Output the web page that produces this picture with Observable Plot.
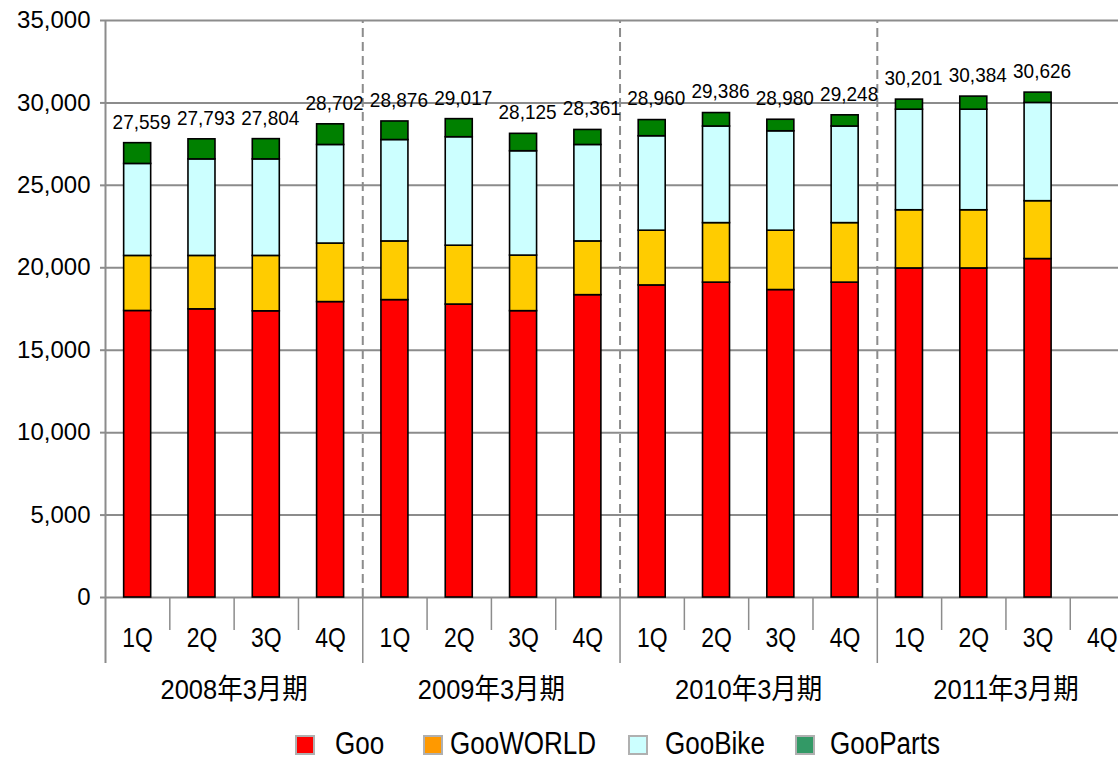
<!DOCTYPE html>
<html>
<head>
<meta charset="utf-8">
<script src="https://cdn.jsdelivr.net/npm/d3@7"></script>
<script src="https://cdn.jsdelivr.net/npm/@observablehq/plot@0.6"></script>
<style>
  html, body { margin: 0; padding: 0; background: #fff; }
  #chart { width: 1118px; height: 760px; position: relative; overflow: hidden; }
  #legend { position: absolute; left: 0; top: 728px; width: 1118px; height: 32px; }
  .sw { position: absolute; top: 7px; width: 16px; height: 16px; border: 2px solid #b0b0b0; }
  .lt { position: absolute; top: 0px; font-family: "Liberation Sans", Arial, sans-serif; font-size: 31px; line-height: 32px; height: 32px; color: #000; transform: scaleX(0.84); transform-origin: left center; white-space: nowrap; }
</style>
</head>
<body>
<div id="chart"></div>
<script>
// ---- data ----
const fiscalYears = ["2008年3月期", "2009年3月期", "2010年3月期", "2011年3月期"];
const quarters = ["1Q", "2Q", "3Q", "4Q"];
const seriesNames = ["Goo", "GooWORLD", "GooBike", "GooParts"];
const barColors = ["#FF0000", "#FFCC00", "#CCFFFF", "#008000"];
const legendColors = ["#FF0000", "#FF9900", "#CCFFFF", "#339966"];

// 15 reported quarters (2011/3 4Q not yet reported)
const totals   = [27559, 27793, 27804, 28702, 28876, 29017, 28125, 28361, 28960, 29386, 28980, 29248, 30201, 30384, 30626];
const goo      = [17380, 17480, 17360, 17920, 18040, 17770, 17370, 18340, 18930, 19100, 18650, 19100, 19960, 19960, 20530];
const gooWorld = [3340, 3240, 3360, 3550, 3560, 3570, 3370, 3260, 3320, 3610, 3600, 3610, 3530, 3530, 3510];
const gooBike  = [5580, 5855, 5855, 5980, 6150, 6580, 6330, 5850, 5730, 5860, 6030, 5860, 6100, 6100, 5960];
// GooParts = reported total minus the other three
const gooParts = totals.map((t, i) => t - goo[i] - gooWorld[i] - gooBike[i]);

const yTicks = [0, 5000, 10000, 15000, 20000, 25000, 30000, 35000];

// ---- build tables ----
const slots = [];
fiscalYears.forEach((fy, k) => quarters.forEach((q, j) => slots.push({i: k * 4 + j, q, fy})));

const seriesVals = [goo, gooWorld, gooBike, gooParts];
const segments = [];
totals.forEach((t, i) => {
  let acc = 0;
  seriesVals.forEach((arr, s) => {
    segments.push({i, series: seriesNames[s], y1: acc, y2: acc + arr[i]});
    acc += arr[i];
  });
});
const totalRows = totals.map((t, i) => ({i, t}));
const yearRows = fiscalYears.map((fy, k) => ({k, fy}));
const yearBounds = [4, 8, 12];
const quarterBounds = slots.map(d => d.i).filter(i => i > 0 && i % 4 !== 0);

const half = 0.21;
const fmt = d3.format(",");
const labelFont = '"Liberation Sans", Arial, "Noto Sans CJK JP", sans-serif';

const plot = Plot.plot({
  width: 1118,
  height: 728,
  marginLeft: 105,
  marginRight: 0,
  marginTop: 20,
  marginBottom: 131,
  style: {fontFamily: labelFont, background: "#fff", overflow: "hidden"},
  x: {type: "linear", domain: [0, 15.75], axis: null},
  y: {domain: [0, 35000], axis: null},
  color: {domain: seriesNames, range: barColors},
  marks: [
    // horizontal gridlines
    Plot.ruleY(yTicks, {stroke: "#8c8c8c", strokeWidth: 2}),
    // year separators (dashed) in the plot area
    Plot.ruleX(yearBounds, {y1: 0, y2: 35000, stroke: "#8c8c8c", strokeWidth: 2, strokeDasharray: "9,5"}),
    // left axis line extending into the category area
    Plot.ruleX([0], {y1: 35000, y2: 0, insetBottom: -66, stroke: "#8c8c8c", strokeWidth: 2}),
    // long category separators between fiscal years
    Plot.ruleX(yearBounds, {y1: 0, y2: 0, insetBottom: -66, stroke: "#8c8c8c", strokeWidth: 1.5}),
    // short separators between quarters
    Plot.ruleX(quarterBounds, {y1: 0, y2: 0, insetBottom: -33, stroke: "#8c8c8c", strokeWidth: 1.5}),
    // y tick marks (short lines left of the axis)
    Plot.ruleY(yTicks, {x1: 0, x2: 0, insetLeft: -5, stroke: "#8c8c8c", strokeWidth: 2}),
    // y tick labels
    Plot.text(yTicks, {x: 0, y: d => d, text: d => fmt(d), textAnchor: "end", dx: -15, fontSize: 24, fill: "#000"}),
    // stacked bars
    Plot.rectY(segments, {
      x1: d => d.i + 0.5 - half,
      x2: d => d.i + 0.5 + half,
      y1: "y1", y2: "y2",
      fill: "series",
      stroke: "#000",
      strokeWidth: 1.6
    }),
    // totals above bars
    Plot.text(totalRows, {x: d => d.i + 0.5, y: "t", text: d => fmt(d.t), dy: -21, dx: 4, fontSize: 20, fill: "#000", ariaLabel: () => "totals"}),
    // quarter labels
    Plot.text(slots, {x: d => d.i + 0.5, y: 0, text: "q", dy: 41, fontSize: 28, fill: "#000", ariaLabel: () => "quarters"}),
    // fiscal year labels
    Plot.text(yearRows, {x: d => d.k * 4 + 2, y: 0, text: "fy", dy: 93, fontSize: 28, fill: "#000", ariaLabel: () => "years"})
  ]
});

// horizontally condense some label groups (the reference uses a narrow font)
function condense(label, sx) {
  plot.querySelectorAll(`text[aria-label="${label}"]`).forEach(t => {
    const tr = t.getAttribute("transform");
    if (tr) {
      t.setAttribute("transform", tr + ` scale(${sx},1)`);
    } else {
      const x = +t.getAttribute("x") || 0, y = +t.getAttribute("y") || 0;
      t.setAttribute("x", 0); t.setAttribute("y", 0);
      t.setAttribute("transform", `translate(${x},${y}) scale(${sx},1)`);
    }
  });
}
condense("totals", 0.95);
condense("quarters", 0.82);
condense("years", 0.91);

const chart = document.getElementById("chart");
chart.appendChild(plot);

// legend (HTML, below the SVG)
const legendSwatchX = [295, 423, 628, 795];
const legendTextX = [335, 450, 665, 830];
const legend = document.createElement("div");
legend.id = "legend";
seriesNames.forEach((name, s) => {
  const sw = document.createElement("div");
  sw.className = "sw";
  sw.style.left = legendSwatchX[s] + "px";
  sw.style.background = legendColors[s];
  legend.appendChild(sw);
  const t = document.createElement("div");
  t.className = "lt";
  t.style.left = legendTextX[s] + "px";
  t.textContent = name;
  legend.appendChild(t);
});
chart.appendChild(legend);
</script>
</body>
</html>
